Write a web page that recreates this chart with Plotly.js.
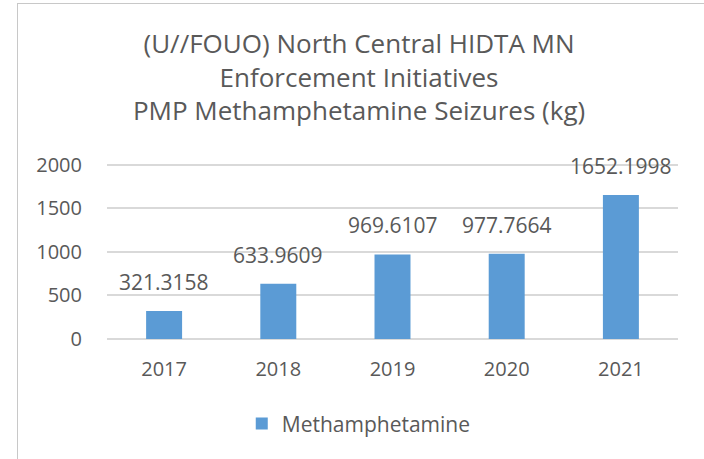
<!DOCTYPE html>
<html>
<head>
<meta charset="utf-8">
<script src="https://cdn.plot.ly/plotly-3.0.1.min.js"></script>
<style>
  html, body { margin: 0; padding: 0; background: #fff; }
  #frame { position: absolute; left: 17px; top: 3px; width: 720px; height: 480px; border: 1.5px solid #c8c8c8; box-sizing: border-box; }
  #chart { position: absolute; left: 0; top: 0; width: 704px; height: 459px; }
</style>
</head>
<body>
<div id="frame"></div>
<div id="chart"></div>
<script>
const years = ['2017', '2018', '2019', '2020', '2021'];
const seizures = [321.3158, 633.9609, 969.6107, 977.7664, 1652.1998];
const labels = ['321.3158', '633.9609', '969.6107', '977.7664', '1652.1998'];
const seriesName = 'Methamphetamine';
const yTicks = [0, 500, 1000, 1500, 2000];

const fontFam = 'Open Sans, sans-serif';
const txtColor = '#595959';

const trace = {
  type: 'bar',
  x: years,
  y: seizures,
  name: seriesName,
  marker: { color: '#5B9BD5' }
};

// category index positions for the value labels
const annotations = years.map((yr, i) => ({
  x: i, y: seizures[i], xref: 'x', yref: 'y',
  text: labels[i], showarrow: false,
  yanchor: 'bottom', yshift: 13,
  font: { family: fontFam, size: 21, color: txtColor }
}));

const layout = {
  width: 704, height: 459,
  margin: { l: 107, r: 26, t: 162, b: 120 },
  paper_bgcolor: 'rgba(0,0,0,0)',
  plot_bgcolor: 'rgba(0,0,0,0)',
  font: { family: fontFam, color: txtColor },
  title: {
    text: '(U//FOUO) North Central HIDTA MN<br>Enforcement Initiatives<br>PMP Methamphetamine Seizures (kg)',
    font: { family: fontFam, size: 26, color: txtColor },
    x: 0.51, xanchor: 'center', xref: 'container',
    y: 0.885, yanchor: 'top', yref: 'container'
  },
  bargap: 0.685,
  xaxis: {
    type: 'category',
    range: [-0.5, years.length - 0.5],
    autorange: false,
    showgrid: false, zeroline: false, showline: false,
    ticks: 'outside', ticklen: 12, tickcolor: 'rgba(0,0,0,0)',
    tickfont: { family: fontFam, size: 20, color: txtColor }
  },
  yaxis: {
    range: [0, 2030],
    autorange: false,
    tickvals: yTicks,
    showgrid: true, gridcolor: '#d9d9d9', gridwidth: 1.5,
    zeroline: true, zerolinecolor: '#d9d9d9', zerolinewidth: 1.5,
    showline: false,
    ticks: 'outside', ticklen: 20, tickcolor: 'rgba(0,0,0,0)',
    tickfont: { family: fontFam, size: 20, color: txtColor }
  },
  showlegend: true,
  legend: {
    orientation: 'h',
    x: 0.236, xanchor: 'left',
    y: -0.48, yanchor: 'middle',
    font: { family: fontFam, size: 21, color: txtColor },
    itemwidth: 30
  },
  annotations: annotations
};

Plotly.newPlot('chart', [trace], layout, { displayModeBar: false });
</script>
</body>
</html>
